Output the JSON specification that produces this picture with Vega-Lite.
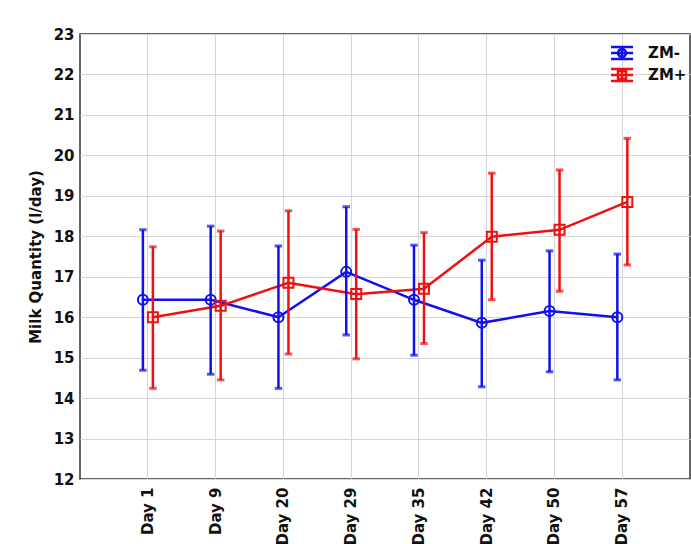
{
  "$schema": "https://vega.github.io/schema/vega-lite/v6.json",
  "width": 610,
  "height": 445,
  "autosize": {"type": "none"},
  "padding": {"left": 80, "top": 34, "right": 1, "bottom": 65},
  "background": "white",
  "config": {
    "view": {"stroke": "#333333", "strokeWidth": 1.5},
    "font": "DejaVu Sans",
    "axis": {
      "domain": false,
      "gridColor": "#d6d6d6",
      "gridWidth": 1,
      "labelFont": "DejaVu Sans",
      "labelFontWeight": "bold",
      "labelFontSize": 15,
      "labelColor": "#111111",
      "titleFont": "DejaVu Sans",
      "titleFontWeight": "bold",
      "titleFontSize": 15,
      "titleColor": "#111111"
    },
    "legend": {
      "title": null,
      "orient": "none",
      "legendX": 532,
      "legendY": 9,
      "symbolSize": 289,
      "symbolStrokeWidth": 2.5,
      "labelFontSize": 15,
      "labelFontWeight": "bold",
      "labelFont": "DejaVu Sans",
      "labelColor": "#111111",
      "labelOffset": 16,
      "rowPadding": 0
    }
  },
  "data": {
    "values": [
      {"day": "Day 1", "group": "ZM-", "mean": 16.43, "lo": 14.69, "hi": 18.16},
      {"day": "Day 9", "group": "ZM-", "mean": 16.43, "lo": 14.59, "hi": 18.25},
      {"day": "Day 20", "group": "ZM-", "mean": 16.0, "lo": 14.24, "hi": 17.76},
      {"day": "Day 29", "group": "ZM-", "mean": 17.12, "lo": 15.56, "hi": 18.73},
      {"day": "Day 35", "group": "ZM-", "mean": 16.43, "lo": 15.06, "hi": 17.78},
      {"day": "Day 42", "group": "ZM-", "mean": 15.86, "lo": 14.28, "hi": 17.41},
      {"day": "Day 50", "group": "ZM-", "mean": 16.15, "lo": 14.65, "hi": 17.64},
      {"day": "Day 57", "group": "ZM-", "mean": 16.0, "lo": 14.45, "hi": 17.56},
      {"day": "Day 1", "group": "ZM+", "mean": 16.0, "lo": 14.24, "hi": 17.74},
      {"day": "Day 9", "group": "ZM+", "mean": 16.28, "lo": 14.45, "hi": 18.13},
      {"day": "Day 20", "group": "ZM+", "mean": 16.85, "lo": 15.09, "hi": 18.63},
      {"day": "Day 29", "group": "ZM+", "mean": 16.57, "lo": 14.97, "hi": 18.17},
      {"day": "Day 35", "group": "ZM+", "mean": 16.7, "lo": 15.35, "hi": 18.09},
      {"day": "Day 42", "group": "ZM+", "mean": 17.99, "lo": 16.43, "hi": 19.56},
      {"day": "Day 50", "group": "ZM+", "mean": 18.16, "lo": 16.64, "hi": 19.64},
      {"day": "Day 57", "group": "ZM+", "mean": 18.85, "lo": 17.29, "hi": 20.42}
    ]
  },
  "encoding": {
    "x": {
      "field": "day",
      "type": "ordinal",
      "sort": null,
      "scale": {"type": "band", "paddingInner": 0, "paddingOuter": 0.5},
      "axis": {"title": null, "labelAngle": -90, "labelPadding": 8, "ticks": false, "grid": true, "bandPosition": 0.5}
    },
    "xOffset": {
      "field": "group",
      "type": "nominal",
      "sort": ["ZM-", "ZM+"],
      "scale": {"type": "point", "range": [29, 39], "padding": 0}
    },
    "color": {
      "field": "group",
      "type": "nominal",
      "sort": ["ZM-", "ZM+"],
      "scale": {"domain": ["ZM-", "ZM+"], "range": ["#1010f0", "#f01010"]},
      "legend": {
        "encode": {
          "symbols": {
            "update": {
              "shape": {"signal": "datum.value === 'ZM-' ? 'M-1.3,-0.7H1.3M-1.3,0H1.3M-1.3,0.7H1.3M0,-0.7V0.7M-0.47,0A0.47,0.47 0 1,0 0.47,0A0.47,0.47 0 1,0 -0.47,0' : 'M-1.3,-0.7H1.3M-1.3,0H1.3M-1.3,0.7H1.3M0,-0.7V0.7M-0.47,-0.47H0.47V0.47H-0.47Z'"},
              "fill": {"value": "transparent"},
              "strokeWidth": {"value": 2.5}
            }
          }
        }
      }
    }
  },
  "layer": [
    {
      "mark": {"type": "line", "strokeWidth": 2.5},
      "encoding": {
        "y": {
          "field": "mean",
          "type": "quantitative",
          "scale": {"domain": [12, 23], "nice": false, "zero": false},
          "axis": {"title": "Milk Quantity (l/day)", "values": [12,13,14,15,16,17,18,19,20,21,22,23], "ticks": false, "labelPadding": 6, "titlePadding": 10, "grid": true}
        }
      }
    },
    {
      "mark": {"type": "rule", "strokeWidth": 2.5},
      "encoding": {
        "y": {"field": "lo", "type": "quantitative"},
        "y2": {"field": "hi"}
      }
    },
    {
      "mark": {"type": "tick", "size": 5, "thickness": 0.5, "filled": false, "strokeWidth": 2.5},
      "encoding": {"y": {"field": "lo", "type": "quantitative"}}
    },
    {
      "mark": {"type": "tick", "size": 5, "thickness": 0.5, "filled": false, "strokeWidth": 2.5},
      "encoding": {"y": {"field": "hi", "type": "quantitative"}}
    },
    {
      "transform": [{"filter": "datum.group === 'ZM-'"}],
      "mark": {"type": "point", "shape": "circle", "filled": false, "size": 100, "strokeWidth": 2, "opacity": 1},
      "encoding": {"y": {"field": "mean", "type": "quantitative"}}
    },
    {
      "transform": [{"filter": "datum.group === 'ZM+'"}],
      "mark": {"type": "point", "shape": "square", "filled": false, "size": 100, "strokeWidth": 2, "opacity": 1},
      "encoding": {"y": {"field": "mean", "type": "quantitative"}}
    }
  ]
}
